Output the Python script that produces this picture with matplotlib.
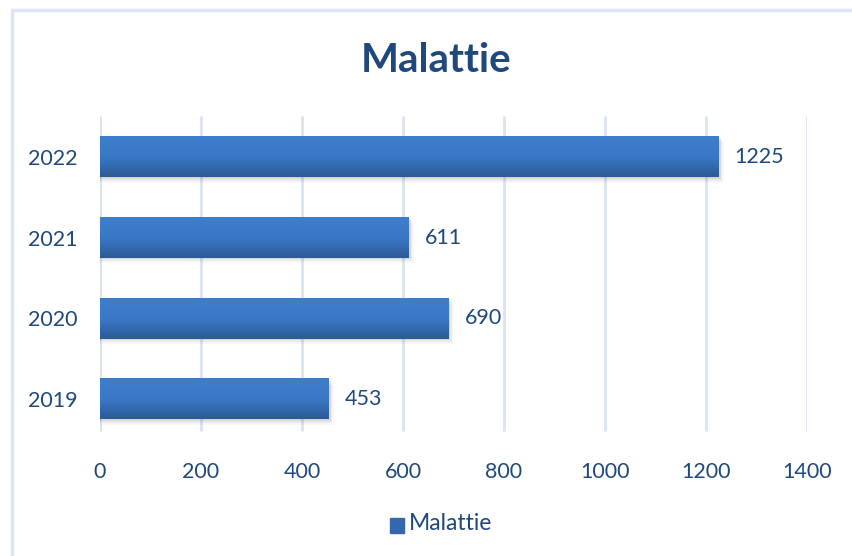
import numpy as np
import matplotlib.pyplot as plt
from matplotlib.patches import Rectangle
from matplotlib.colors import LinearSegmentedColormap

plt.rcParams['font.family'] = ['Lato', 'DejaVu Sans']

# data
anni = ['2019', '2020', '2021', '2022']
malattie = [453, 690, 611, 1225]
x_ticks = [0, 200, 400, 600, 800, 1000, 1200, 1400]

text_col = '#1f497d'
grid_col = '#d9e3f1'
grad = LinearSegmentedColormap.from_list('bar', ['#2c5a96', '#3a78c6', '#3d7ecd'])

fig = plt.figure(figsize=(8.53, 5.56), dpi=100)
ax = fig.add_axes([100 / 853, 1 - 439.5 / 556, 707 / 853, 323 / 556])

# outer chart frame
fig.patches.append(Rectangle((12 / 853, -0.02), 1.0, 1 - 10 / 556 + 0.02,
                             transform=fig.transFigure, fill=False,
                             edgecolor='#dbe5f3', lw=2.5))

h = 0.5
ypos = np.arange(len(anni))
g = np.linspace(0, 1, 100).reshape(-1, 1)
for y, v in zip(ypos, malattie):
    # soft shadow under the bar
    for k, a in enumerate([0.10, 0.07, 0.04]):
        off = 0.02 + k * 0.025
        ax.add_patch(Rectangle((0, y - h / 2 - off), v + 4 + k * 3, h, color='#404040',
                               alpha=a, lw=0, zorder=2))
    ax.imshow(g, extent=[0, v, y - h / 2, y + h / 2], aspect='auto', cmap=grad,
              origin='lower', zorder=3, interpolation='bicubic')
    ax.text(v + 32, y, str(v), va='center', ha='left', fontsize=15.5, color=text_col)

ax.set_xlim(0, 1400)
ax.set_ylim(-0.5, 3.5)
ax.set_xticks(x_ticks)
ax.set_yticks(ypos)
ax.set_yticklabels(anni)
ax.tick_params(length=0, labelsize=15.5, labelcolor=text_col)
ax.tick_params(axis='x', pad=16)
ax.tick_params(axis='y', pad=16)
for s in ax.spines.values():
    s.set_visible(False)
for xv in x_ticks:
    ax.plot([xv, xv], [-0.4, 3.5], color=grid_col, lw=2, zorder=1, solid_capstyle='butt')

fig.text(0.511, 1 - 60 / 556, 'Malattie', ha='center', va='center', fontsize=29,
         fontweight='bold', color=text_col)

# legend
fig.patches.append(Rectangle((390 / 853, 1 - 533 / 556), 14 / 853, 15 / 556,
                             transform=fig.transFigure, color='#3468ad'))
fig.text(409 / 853, 1 - 524 / 556, 'Malattie', ha='left', va='center', fontsize=16.5,
         color=text_col)

fig.savefig('out.png', dpi=100, facecolor='white')
